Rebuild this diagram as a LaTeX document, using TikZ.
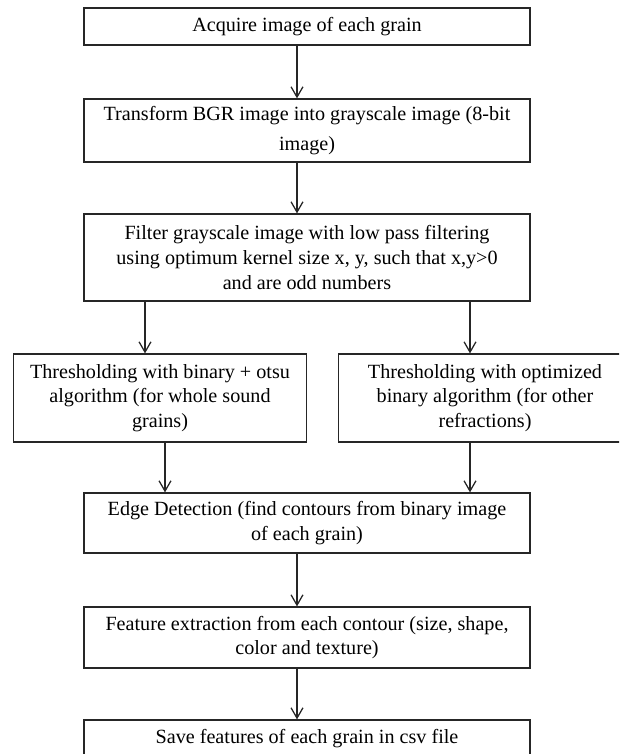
\documentclass[tikz,border=0pt]{standalone}
\usepackage{fontspec}
\setmainfont{Liberation Serif}
\usetikzlibrary{arrows.meta}

\begin{document}
\begin{tikzpicture}[x=0.63pt,y=-0.63pt,>={Straight Barb[length=6.5pt,width=7.5pt]},line width=0.8pt,black!85,
  main node/.style={draw,rectangle,align=center,inner sep=0pt,text=black,font=\fontsize{12.7}{15.6}\selectfont},
  wide node/.style={main node,minimum width=281pt},
  half node/.style={main node,minimum width=185pt,minimum height=55.4pt}]
  \useasboundingbox (0,0) rectangle (619,754);
  \clip (0,0) rectangle (619,754);

  \node[wide node,minimum height=23.3pt] (1) at (307,26.5) {Acquire image of each grain};
  \node[wide node,minimum height=39.7pt] (2) at (307,130.5) {Transform BGR image into grayscale image (8-bit\\[3pt] image)};
  \node[wide node,minimum height=54.8pt] (3) at (307,257.5) {Filter grayscale image with low pass filtering\\ using optimum kernel size x, y, such that x,y>0\\ and are odd numbers};
  \node[half node] (4) at (160,398) {Thresholding with binary + otsu\\ algorithm (for whole sound\\ grains)};
  \node[half node] (5) at (485,398) {Thresholding with optimized\\ binary algorithm (for other\\ refractions)};
  \node[wide node,minimum height=37.8pt] (6) at (307,523) {Edge Detection (find contours from binary image\\ of each grain)};
  \node[wide node,minimum height=38.4pt] (7) at (307,637.5) {Feature extraction from each contour (size, shape,\\ color and texture)};
  \node[wide node,minimum height=23.3pt] (8) at (307,738.5) {Save features of each grain in csv file};

  \coordinate (mid) at (297,0);
  \coordinate (left) at (145,0);
  \coordinate (left2) at (165,0);
  \coordinate (right) at (470,0);

\path[->]
  (1.south -| mid) edge (2.north -| mid)
  (2.south -| mid) edge (3.north -| mid)
  (3.south -| left) edge (4.north -| left)
  (3.south -| right) edge (5.north -| right)
  (4.south -| left2) edge (6.north -| left2)
  (5.south -| right) edge (6.north -| right)
  (6.south -| mid) edge (7.north -| mid)
  (7.south -| mid) edge (8.north -| mid)
;
\end{tikzpicture}
\end{document}
